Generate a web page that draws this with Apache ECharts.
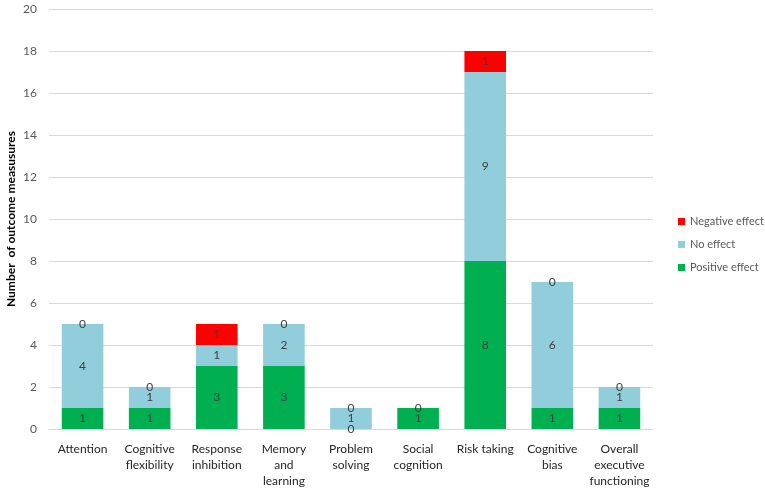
<!DOCTYPE html>
<html>
<head>
<meta charset="utf-8">
<script src="https://cdn.jsdelivr.net/npm/echarts@6/dist/echarts.min.js"></script>
<style>
  html, body { margin: 0; padding: 0; background: #fff; }
  #chart { width: 765px; height: 491px; }
</style>
</head>
<body>
<div id="chart"></div>
<script>
// 类别（轴标签里带换行）
var categories = ['Attention', 'Cognitive\nflexibility', 'Response\ninhibition', 'Memory\nand\nlearning',
  'Problem\nsolving', 'Social\ncognition', 'Risk taking', 'Cognitive\nbias', 'Overall\nexecutive\nfunctioning'];
var positiveEffect = [1, 1, 3, 3, 0, 1, 8, 1, 1];
var noEffect = [4, 1, 1, 2, 1, 0, 9, 6, 1];
var negativeEffect = [0, 0, 1, 0, 0, null, 1, 0, 0];
var yTicks = [0, 2, 4, 6, 8, 10, 12, 14, 16, 18, 20];

var FONT = 'Lato, "Open Sans", sans-serif';

function stackSeries(name, data, color) {
  return {
    name: name,
    type: 'bar',
    stack: 'total',
    data: data,
    barWidth: '62%',
    itemStyle: { color: color },
    label: {
      show: true,
      position: 'inside',
      color: '#404040',
      fontFamily: FONT,
      fontSize: 12
    }
  };
}

var myChart = echarts.init(document.getElementById('chart'));

myChart.setOption({
  animation: false,
  textStyle: { fontFamily: FONT },
  grid: { left: 49, right: 112, top: 9, bottom: 62, containLabel: false, outerBoundsMode: 'none' },
  legend: {
    orient: 'vertical',
    left: 673,
    top: 211,
    itemWidth: 7,
    itemHeight: 7,
    itemGap: 12,
    icon: 'rect',
    textStyle: { color: '#595959', fontSize: 11, fontFamily: FONT },
    data: ['Negative effect', 'No effect', 'Positive effect']
  },
  xAxis: {
    type: 'category',
    data: categories,
    axisTick: { show: false },
    axisLine: { lineStyle: { color: '#d9d9d9', width: 1 } },
    axisLabel: {
      interval: 0,
      color: '#262626',
      fontSize: 12,
      lineHeight: 16,
      margin: 12,
      fontFamily: FONT
    }
  },
  yAxis: {
    type: 'value',
    min: yTicks[0],
    max: yTicks[yTicks.length - 1],
    interval: 2,
    name: 'Number  of outcome measusures',
    nameLocation: 'middle',
    nameGap: 32,
    nameMoveOverlap: false,
    nameTextStyle: { color: '#000', fontSize: 12, fontWeight: 'bold', fontFamily: FONT },
    axisLine: { show: false },
    axisTick: { show: false },
    axisLabel: { color: '#595959', fontSize: 12, margin: 12, fontFamily: FONT },
    splitLine: { lineStyle: { color: '#d9d9d9', width: 1 } }
  },
  series: [
    stackSeries('Positive effect', positiveEffect, '#00b050'),
    stackSeries('No effect', noEffect, '#92cddc'),
    stackSeries('Negative effect', negativeEffect, '#ff0000')
  ]
}, true);
</script>
</body>
</html>
